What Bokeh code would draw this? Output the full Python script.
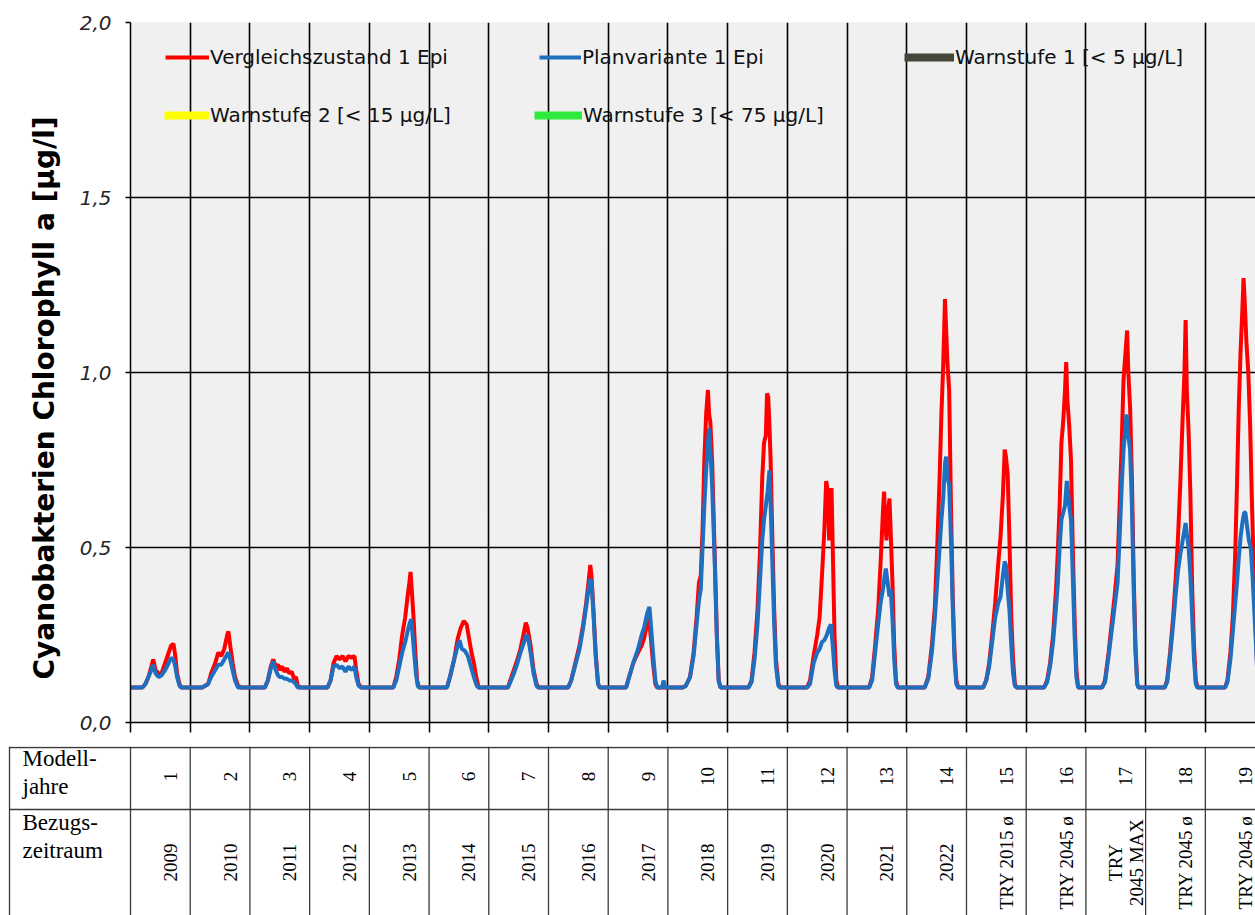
import numpy as np
from bokeh.plotting import figure
from bokeh.layouts import column
from bokeh.models import Range1d, FixedTicker, Legend, LegendItem, Title
from bokeh.embed import file_html
from bokeh.resources import INLINE
from bokeh.core.properties import value

# ---------------- data ----------------
modelljahre = [str(i) for i in range(1, 20)]
bezugszeitraum = ["2009", "2010", "2011", "2012", "2013", "2014", "2015", "2016",
                  "2017", "2018", "2019", "2020", "2021", "2022", "TRY 2015 ø",
                  "TRY 2045 ø", "TRY\n2045 MAX", "TRY 2045 ø", "TRY 2045 ø"]
y_ticks = [0.0, 0.5, 1.0, 1.5, 2.0]
x_visible_end = 18.84          # chart is cut at the right edge
warnstufen = [5, 15, 75]
warn_labels = ["Warnstufe 1 [< 5 µg/L]", "Warnstufe 2 [< 15 µg/L]", "Warnstufe 3 [< 75 µg/L]"]
warn_colors = ["#46473A", "#FFFF00", "#2EEA3C"]

# (fraction of model year, value) for each model year
vergleich_epi = [
    [(0, .10), (.2, .10), (.25, .11), (.3, .13), (.35, .16), (.38, .18), (.42, .15), (.47, .14), (.52, .14), (.58, .17), (.64, .20), (.68, .22), (.72, .225), (.75, .19), (.78, .14), (.82, .11), (.85, .10)],
    [(0, .10), (.2, .10), (.25, .105), (.3, .11), (.35, .14), (.42, .17), (.47, .20), (.52, .19), (.57, .21), (.62, .25), (.64, .26), (.67, .22), (.71, .17), (.75, .13), (.8, .105), (.85, .10)],
    [(0, .10), (.25, .10), (.3, .12), (.35, .16), (.39, .18), (.43, .16), (.47, .165), (.5, .15), (.54, .16), (.58, .145), (.62, .155), (.66, .14), (.7, .145), (.74, .125), (.77, .13), (.8, .105), (.85, .10)],
    [(0, .10), (.3, .10), (.35, .12), (.4, .17), (.45, .19), (.5, .18), (.55, .19), (.6, .175), (.65, .19), (.7, .185), (.75, .19), (.78, .15), (.82, .11), (.86, .10)],
    [(0, .10), (.4, .10), (.45, .13), (.5, .18), (.55, .25), (.6, .30), (.64, .36), (.67, .40), (.69, .43), (.71, .38), (.74, .30), (.77, .20), (.8, .12), (.83, .10)],
    [(0, .10), (.3, .10), (.35, .13), (.42, .18), (.48, .24), (.53, .27), (.58, .29), (.63, .28), (.67, .24), (.71, .20), (.75, .17), (.79, .13), (.83, .10)],
    [(0, .10), (.32, .10), (.36, .12), (.42, .15), (.48, .18), (.53, .21), (.58, .25), (.62, .285), (.65, .27), (.7, .22), (.75, .15), (.8, .11), (.83, .10)],
    [(0, .10), (.33, .10), (.38, .12), (.45, .17), (.52, .22), (.58, .28), (.63, .34), (.67, .40), (.70, .45), (.72, .42), (.75, .33), (.79, .20), (.83, .11), (.86, .10)],
    [(0, .10), (.3, .10), (.35, .13), (.42, .17), (.5, .20), (.56, .22), (.6, .24), (.65, .28), (.68, .30), (.71, .25), (.75, .17), (.79, .11), (.82, .10)],
    [(0, .10), (.25, .10), (.3, .105), (.37, .13), (.43, .20), (.48, .30), (.52, .40), (.55, .42), (.58, .55), (.61, .75), (.64, .88), (.67, .95), (.69, .88), (.71, .86), (.74, .75), (.78, .50), (.82, .25), (.85, .12), (.88, .10)],
    [(0, .10), (.35, .10), (.4, .12), (.45, .20), (.5, .32), (.54, .48), (.58, .70), (.61, .80), (.64, .82), (.66, .94), (.68, .93), (.70, .85), (.72, .75), (.75, .52), (.78, .32), (.81, .18), (.85, .11), (.88, .10)],
    [(0, .10), (.33, .10), (.38, .12), (.44, .19), (.5, .25), (.54, .30), (.58, .42), (.62, .55), (.65, .69), (.68, .66), (.70, .52), (.72, .60), (.74, .67), (.76, .50), (.79, .25), (.82, .12), (.85, .10)],
    [(0, .10), (.37, .10), (.42, .13), (.47, .22), (.52, .32), (.56, .45), (.6, .60), (.62, .66), (.64, .58), (.66, .52), (.68, .58), (.71, .64), (.73, .55), (.76, .40), (.79, .22), (.82, .12), (.85, .10)],
    [(0, .10), (.3, .10), (.36, .13), (.42, .22), (.47, .33), (.51, .50), (.55, .70), (.58, .88), (.61, 1.02), (.64, 1.21), (.66, 1.12), (.68, 1.03), (.71, .95), (.74, .62), (.77, .36), (.8, .20), (.83, .12), (.86, .10)],
    [(0, .10), (.28, .10), (.33, .12), (.38, .17), (.43, .25), (.48, .34), (.53, .45), (.57, .53), (.61, .65), (.64, .78), (.66, .76), (.69, .71), (.72, .52), (.75, .30), (.78, .18), (.81, .11), (.84, .10)],
    [(0, .10), (.3, .10), (.35, .12), (.4, .17), (.45, .25), (.5, .38), (.53, .49), (.56, .62), (.59, .80), (.62, .86), (.65, .95), (.67, 1.03), (.69, .92), (.72, .85), (.75, .75), (.78, .50), (.81, .30), (.84, .15), (.87, .10)],
    [(0, .10), (.27, .10), (.32, .12), (.38, .20), (.43, .28), (.48, .36), (.53, .45), (.57, .65), (.6, .80), (.63, .98), (.66, 1.05), (.69, 1.12), (.71, 1.00), (.74, .90), (.77, .70), (.8, .42), (.83, .22), (.86, .11), (.88, .10)],
    [(0, .10), (.32, .10), (.36, .12), (.41, .20), (.46, .30), (.5, .40), (.54, .52), (.58, .68), (.62, .87), (.65, 1.00), (.67, 1.15), (.69, .95), (.72, .83), (.75, .65), (.78, .38), (.81, .22), (.84, .12), (.87, .10)],
    [(0, .10), (.33, .10), (.37, .12), (.42, .20), (.46, .30), (.5, .48), (.53, .68), (.56, .90), (.59, 1.06), (.62, 1.18), (.64, 1.27), (.66, 1.20), (.69, 1.08), (.72, 1.00), (.75, .85), (.78, .63), (.81, .45), (.84, .28), (.87, .15), (.9, .10)],
]
planvariante_epi = [
    [(0, .10), (.2, .10), (.25, .11), (.3, .13), (.35, .15), (.38, .165), (.42, .14), (.47, .13), (.52, .135), (.58, .15), (.64, .17), (.68, .185), (.72, .18), (.75, .16), (.78, .13), (.82, .105), (.85, .10)],
    [(0, .10), (.2, .10), (.25, .105), (.3, .11), (.35, .13), (.42, .15), (.47, .165), (.52, .165), (.57, .18), (.62, .195), (.64, .20), (.67, .18), (.71, .15), (.75, .12), (.8, .10)],
    [(0, .10), (.25, .10), (.3, .12), (.35, .155), (.39, .175), (.43, .15), (.47, .135), (.5, .13), (.54, .13), (.58, .125), (.62, .125), (.66, .12), (.7, .12), (.74, .115), (.77, .11), (.8, .10)],
    [(0, .10), (.3, .10), (.35, .12), (.4, .16), (.45, .165), (.5, .155), (.55, .16), (.6, .145), (.65, .16), (.7, .15), (.75, .16), (.78, .13), (.82, .105), (.86, .10)],
    [(0, .10), (.4, .10), (.45, .12), (.5, .16), (.55, .20), (.6, .23), (.64, .26), (.67, .28), (.70, .295), (.72, .26), (.75, .20), (.78, .14), (.81, .105), (.84, .10)],
    [(0, .10), (.3, .10), (.35, .13), (.42, .18), (.48, .22), (.51, .235), (.55, .21), (.6, .205), (.65, .19), (.7, .16), (.75, .13), (.8, .105), (.83, .10)],
    [(0, .10), (.32, .10), (.36, .115), (.42, .14), (.48, .17), (.53, .20), (.58, .225), (.63, .25), (.66, .24), (.7, .20), (.75, .14), (.8, .105), (.83, .10)],
    [(0, .10), (.33, .10), (.38, .12), (.45, .165), (.52, .21), (.58, .27), (.63, .33), (.67, .38), (.70, .41), (.72, .40), (.75, .32), (.79, .19), (.83, .11), (.86, .10)],
    [(0, .10), (.3, .10), (.35, .13), (.42, .17), (.5, .21), (.56, .25), (.6, .27), (.65, .31), (.69, .33), (.71, .29), (.75, .20), (.79, .12), (.82, .10), (.9, .10), (.93, .12), (.95, .10)],
    [(0, .10), (.25, .10), (.3, .105), (.37, .13), (.43, .19), (.48, .28), (.52, .35), (.55, .38), (.58, .50), (.61, .62), (.64, .72), (.67, .80), (.69, .84), (.71, .78), (.74, .68), (.78, .48), (.82, .24), (.85, .12), (.88, .10)],
    [(0, .10), (.35, .10), (.4, .115), (.45, .18), (.5, .28), (.54, .40), (.58, .52), (.61, .58), (.64, .62), (.67, .66), (.70, .72), (.72, .62), (.75, .45), (.78, .28), (.81, .16), (.85, .105), (.88, .10)],
    [(0, .10), (.33, .10), (.38, .11), (.44, .17), (.5, .20), (.54, .21), (.58, .23), (.62, .235), (.66, .25), (.70, .27), (.73, .28), (.76, .22), (.79, .15), (.82, .105), (.85, .10)],
    [(0, .10), (.37, .10), (.42, .12), (.47, .20), (.52, .28), (.56, .34), (.6, .38), (.63, .42), (.65, .44), (.68, .40), (.71, .36), (.73, .38), (.76, .30), (.79, .18), (.82, .11), (.85, .10)],
    [(0, .10), (.3, .10), (.36, .125), (.42, .20), (.47, .30), (.51, .40), (.55, .50), (.58, .58), (.61, .64), (.64, .74), (.66, .76), (.68, .70), (.71, .68), (.74, .52), (.77, .33), (.8, .18), (.83, .11), (.86, .10)],
    [(0, .10), (.28, .10), (.33, .12), (.38, .16), (.43, .23), (.48, .30), (.53, .34), (.57, .36), (.61, .42), (.64, .46), (.66, .45), (.69, .38), (.72, .32), (.75, .22), (.78, .14), (.81, .105), (.84, .10)],
    [(0, .10), (.3, .10), (.35, .115), (.4, .16), (.45, .23), (.5, .33), (.53, .40), (.56, .50), (.59, .58), (.62, .60), (.65, .62), (.68, .69), (.70, .66), (.72, .62), (.75, .58), (.78, .42), (.81, .25), (.84, .13), (.87, .10)],
    [(0, .10), (.27, .10), (.32, .115), (.38, .19), (.43, .26), (.48, .33), (.53, .40), (.57, .55), (.6, .68), (.63, .78), (.66, .84), (.68, .88), (.71, .82), (.74, .78), (.77, .62), (.8, .38), (.83, .20), (.86, .11), (.88, .10)],
    [(0, .10), (.32, .10), (.36, .115), (.41, .19), (.46, .28), (.5, .36), (.54, .43), (.58, .48), (.62, .52), (.65, .55), (.67, .57), (.69, .54), (.72, .50), (.75, .42), (.78, .30), (.81, .18), (.84, .11), (.87, .10)],
    [(0, .10), (.33, .10), (.37, .115), (.42, .18), (.46, .26), (.5, .34), (.53, .40), (.56, .47), (.59, .53), (.62, .57), (.65, .60), (.67, .60), (.7, .56), (.73, .52), (.76, .50), (.79, .42), (.82, .32), (.84, .25), (.87, .14), (.9, .10)],
]


def flatten(series):
    xs, ys = [], []
    for k, year in enumerate(series):
        for f, v in year:
            xs.append(k + f)
            ys.append(v)
    return xs, ys


vx, vy = flatten(vergleich_epi)
px_, py_ = flatten(planvariante_epi)
n_years = len(modelljahre)

# ---------------- chart ----------------
FRAME_W, FRAME_H = 1125, 700
LEFT = 130
TOP = 22
BOTTOM = 24
ppy = FRAME_W / x_visible_end

p = figure(frame_width=FRAME_W, frame_height=FRAME_H,
           x_range=Range1d(0, x_visible_end), y_range=Range1d(0, 2.0),
           output_backend="svg", toolbar_location=None,
           min_border_left=LEFT, min_border_right=0, min_border_top=TOP, min_border_bottom=BOTTOM,
           background_fill_color="#F0F0F0", border_fill_color="white",
           outline_line_color=None)
p.frame_align = False

r_v = p.line(vx, vy, line_color="#FF0000", line_width=4)
r_p = p.line(px_, py_, line_color="#1E6FC0", line_width=4)
warn_r = []
for w, c in zip(warnstufen, warn_colors):
    warn_r.append(p.line([0, n_years], [w, w], line_color=c, line_width=8))

# axes
p.yaxis.ticker = FixedTicker(ticks=y_ticks)
p.yaxis.major_label_overrides = {t: f"{t:.1f}".replace(".", ",") for t in y_ticks}
p.yaxis.major_label_text_font = "DejaVu Sans"
p.yaxis.major_label_text_font_style = "italic"
p.yaxis.major_label_text_font_size = "20px"
p.yaxis.major_label_text_color = "#262626"
p.yaxis.major_label_standoff = 14
p.yaxis.major_tick_out = 5
p.yaxis.major_tick_in = 0
p.yaxis.minor_tick_line_color = None
p.yaxis.axis_line_color = "black"
p.yaxis.axis_line_width = 1.5
p.yaxis.major_tick_line_width = 1.5

ylabel = Title(text="Cyanobakterien Chlorophyll a [µg/l]", align="left", offset=43,
               vertical_align="middle", standoff=30,
               text_font="DejaVu Sans", text_font_style="bold", text_font_size="28px",
               text_color="black")
p.add_layout(ylabel, "left")

x_ticks = list(range(n_years + 1))
p.xaxis.ticker = FixedTicker(ticks=x_ticks)
p.xaxis.major_label_overrides = {k: "" for k in x_ticks}
p.xaxis.major_label_standoff = 0
p.xaxis.major_tick_out = 10
p.xaxis.major_tick_in = 0
p.xaxis.minor_tick_line_color = None
p.xaxis.axis_line_color = "black"
p.xaxis.axis_line_width = 1.5
p.xaxis.major_tick_line_width = 1.5

p.xgrid.ticker = FixedTicker(ticks=x_ticks)
p.xgrid.grid_line_color = "black"
p.xgrid.grid_line_width = 1.6
p.ygrid.ticker = FixedTicker(ticks=y_ticks)
p.ygrid.grid_line_color = "black"
p.ygrid.grid_line_width = 1.6

# legends (each entry positioned separately; x = label start, y = bottom of entry, frame px)
entries = [
    ("Vergleichszustand 1 Epi", r_v, 80, 653, 44),
    ("Planvariante 1 Epi", r_p, 452, 653, 42),
    (warn_labels[0], warn_r[0], 825, 653, 50),
    (warn_labels[1], warn_r[1], 80, 595, 45),
    (warn_labels[2], warn_r[2], 453, 595, 48),
]
for label, rend, tx, by, gw in entries:
    lg = Legend(items=[LegendItem(label=label, renderers=[rend])],
                location=(tx - gw - 1, by),
                glyph_width=gw, glyph_height=20, label_standoff=1,
                label_height=20, padding=0, margin=0, spacing=0,
                border_line_color=None, background_fill_alpha=0,
                label_text_font="DejaVu Sans", label_text_font_size="20px",
                label_text_color="#111111")
    p.add_layout(lg, "center")

# ---------------- table ----------------
TAB_H = 169
x0 = -LEFT / ppy
t = figure(width=LEFT + FRAME_W, height=TAB_H,
           x_range=Range1d(x0, x_visible_end), y_range=Range1d(TAB_H, 0),
           output_backend="svg", toolbar_location=None,
           min_border_left=0, min_border_right=0, min_border_top=0, min_border_bottom=0,
           x_axis_location=None, y_axis_location=None,
           outline_line_color=None, background_fill_color="white", border_fill_color="white")
t.frame_align = False
t.grid.visible = False

bounds = list(range(n_years + 1))
t.segment(x0=bounds, y0=[0] * len(bounds), x1=bounds, y1=[TAB_H] * len(bounds),
          line_color="#3a3a3a", line_width=1.3)
t.segment(x0=[x0 + 9 / ppy], y0=[0], x1=[x0 + 9 / ppy], y1=[TAB_H], line_color="#3a3a3a", line_width=1.3)
t.segment(x0=[x0 + 9 / ppy, x0 + 9 / ppy], y0=[1, 63], x1=[x_visible_end, x_visible_end], y1=[1, 63],
          line_color="#3a3a3a", line_width=1.3)

centers = [k + 0.5 for k in range(n_years)]
t.text(x=centers, y=[30] * n_years, text=modelljahre, angle=np.pi / 2,
       text_align="center", text_baseline="middle", x_offset=10,
       text_font=value("Liberation Serif"), text_font_size="19px", text_color="black")
t.text(x=centers, y=[116] * n_years, text=bezugszeitraum, angle=np.pi / 2,
       text_align="center", text_baseline="middle", x_offset=10,
       text_font=value("Liberation Serif"), text_font_size="19px", text_color="black",
       text_line_height=1.0)
t.text(x=[x0 + 22 / ppy, x0 + 22 / ppy], y=[26, 90], text=["Modell-\njahre", "Bezugs-\nzeitraum"],
       text_align="left", text_baseline="middle",
       text_font=value("Liberation Serif"), text_font_size="23px", text_color="black",
       text_line_height=1.1)

layout = column(p, t, spacing=0)
open("out.html", "w").write(file_html(layout, INLINE))
